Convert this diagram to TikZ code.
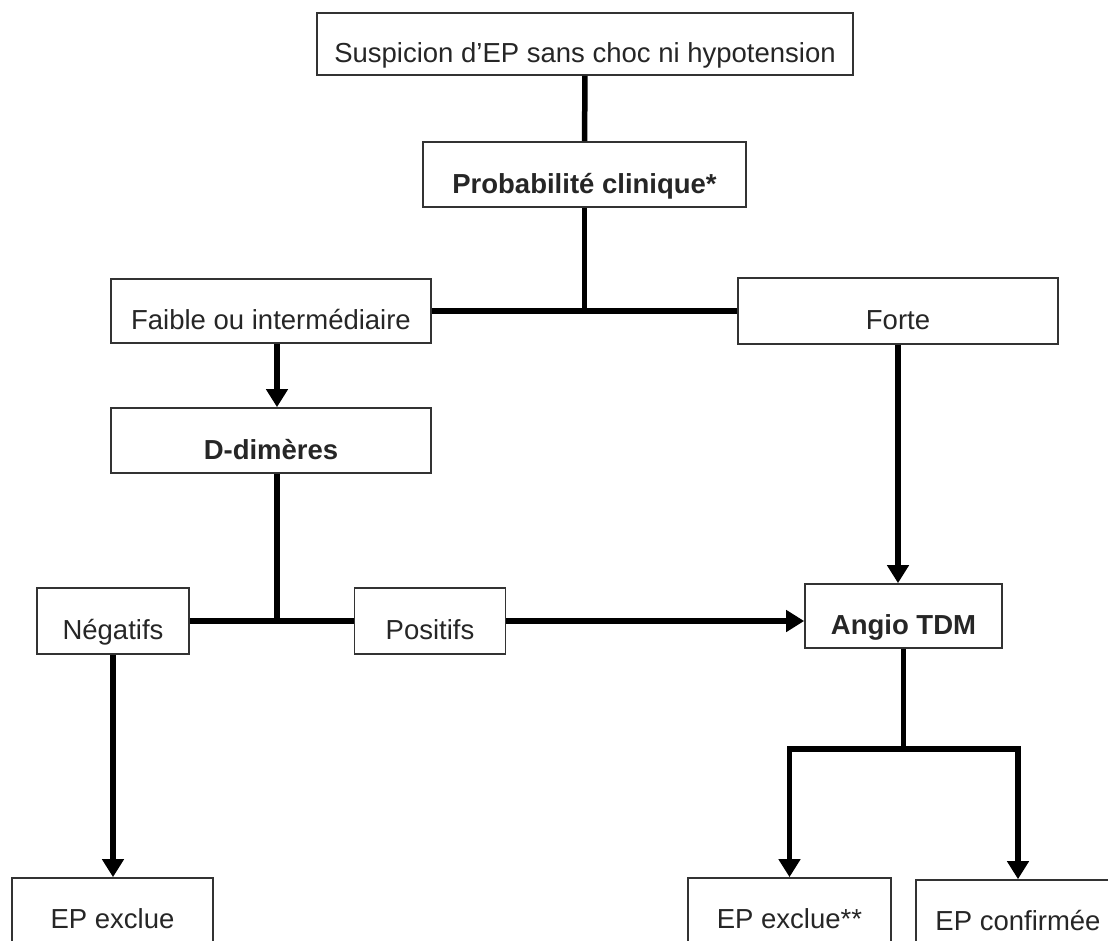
\documentclass[tikz,border=0pt]{standalone}
\usepackage{fontspec}
\setmainfont{Liberation Sans}
\usetikzlibrary{arrows.meta}
\begin{document}
\begin{tikzpicture}[x=1pt,y=-1pt,
  box/.style={draw=black!80, line width=1.7pt, fill=white, inner sep=0pt,
    text height=37pt, text depth=0pt, text=black!85,
    font=\fontsize{27.5}{33}\selectfont},
  link/.style={line width=5.5pt, black},
  flow/.style={link, -{Triangle[width=21pt,length=18pt]}},
]
\useasboundingbox (0,0) rectangle (1108,940);
\fill[white] (0,0) rectangle (1108,940);
\clip (0,0) rectangle (1108,940);

% boxes
\node[box, minimum width=536pt, minimum height=62pt] (susp) at (585,44) {Suspicion d’EP sans choc ni hypotension};
\node[box, minimum width=323pt, minimum height=65pt] (prob) at (584.5,174.5) {\textbf{Probabilité clinique*}};
\node[box, minimum width=320pt, minimum height=64pt] (faible) at (271,311) {Faible ou intermédiaire};
\node[box, minimum width=320pt, minimum height=66pt] (forte) at (898,311) {Forte};
\node[box, minimum width=320pt, minimum height=65pt] (ddim) at (271,440.5) {\textbf{D-dimères}};
\node[box, minimum width=152pt, minimum height=66pt] (neg) at (113,621) {Négatifs};
\node[box, minimum width=151pt, minimum height=66pt] (pos) at (430,621) {Positifs};
\node[box, minimum width=197pt, minimum height=64pt] (angio) at (903.5,616) {\textbf{Angio TDM}};
\node[box, minimum width=201pt, minimum height=64pt] (excl) at (112.5,910) {EP exclue};
\node[box, minimum width=203pt, minimum height=64pt] (exclb) at (789.5,910) {EP exclue**};
\node[box, minimum width=204pt, minimum height=64pt] (conf) at (1018,912) {EP confirmée};

% connectors
\draw[link] (susp) -- (prob);
\draw[link] (faible.east) -- (forte.west);
\draw[link] (prob.south) -- (prob.south |- faible.east);
\draw[flow] ([xshift=6pt]faible.south) -- ([xshift=6pt]ddim.north);
\draw[link] (neg.east) -- (pos.west);
\draw[link] ([xshift=6pt]ddim.south) -- ([xshift=6pt]ddim.south |- neg.east);
\draw[flow] (pos.east) -- (pos.east -| angio.west);
\draw[flow] (forte.south) -- (forte.south |- angio.north);
\draw[flow] (neg.south) -- (neg.south |- excl.north);
\coordinate (split) at ([yshift=-100pt]angio.south);
\draw[link] (angio.south) -- (split);
\draw[flow] ([xshift=2.75pt]split) -| (exclb.north);
\draw[flow] ([xshift=-2.75pt]split) -| (conf.north);
\end{tikzpicture}
\end{document}
